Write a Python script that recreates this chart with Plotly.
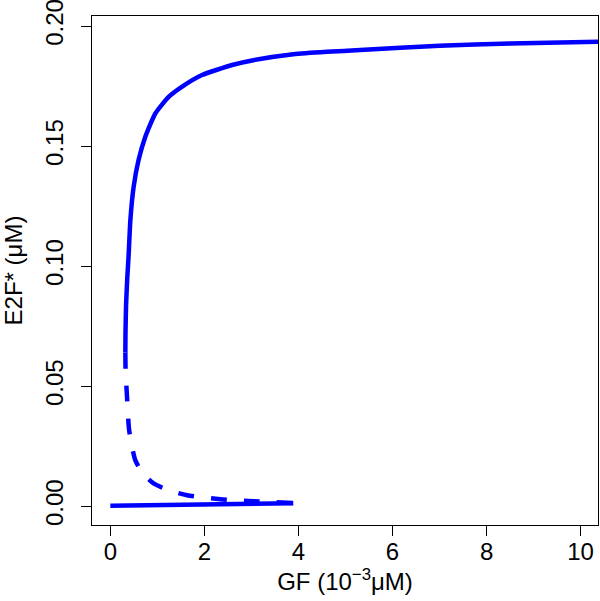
import plotly.graph_objects as go

# Stable upper branch (solid)
upper_x = [0.319, 0.322, 0.335, 0.36, 0.39, 0.425, 0.495, 0.60, 0.744, 0.956, 1.24, 1.52, 1.95, 2.59, 3.04, 3.89, 4.6, 5.31, 7.0, 8.5, 10.4]
upper_y = [0.064, 0.072, 0.084, 0.095, 0.105, 0.119, 0.133, 0.1442, 0.1539, 0.1636, 0.1705, 0.1747, 0.1796, 0.1838, 0.1858, 0.1883, 0.1893, 0.1900, 0.1918, 0.1927, 0.1935]

# Unstable branch (dashed)
unstable_x = [0.319, 0.325, 0.355, 0.40, 0.53, 0.70, 0.92, 1.25, 1.63, 2.34, 3.04, 3.89]
unstable_y = [0.064, 0.056, 0.0455, 0.0317, 0.0192, 0.0135, 0.0095, 0.0066, 0.0046, 0.0029, 0.0021, 0.0014]

# Stable lower branch (solid)
lower_x = [0.0, 1.0, 2.0, 3.0, 3.5, 3.89]
lower_y = [0.0002, 0.0004, 0.0006, 0.0009, 0.0011, 0.0013]

x_ticks = [0, 2, 4, 6, 8, 10]
y_ticks = [0.00, 0.05, 0.10, 0.15, 0.20]
y_tick_labels = ["0.00", "0.05", "0.10", "0.15", "0.20"]

BLUE = "#0000FF"
FONT = "Liberation Sans, Arial, sans-serif"

fig = go.Figure()
fig.add_trace(go.Scatter(x=upper_x, y=upper_y, mode="lines",
                         line=dict(color=BLUE, width=4.5, shape="spline", smoothing=0.5),
                         showlegend=False))
fig.add_trace(go.Scatter(x=unstable_x, y=unstable_y, mode="lines",
                         line=dict(color=BLUE, width=4.5, dash="16px,17px", shape="spline", smoothing=0.6),
                         showlegend=False))
fig.add_trace(go.Scatter(x=lower_x, y=lower_y, mode="lines",
                         line=dict(color=BLUE, width=4.5),
                         showlegend=False))

axis_common = dict(
    showline=True, mirror=True, linecolor="black", linewidth=1,
    ticks="outside", ticklen=10, tickcolor="black", tickwidth=1,
    showgrid=False, zeroline=False,
    tickfont=dict(family=FONT, size=24, color="black"),
    ticklabeloverflow="allow",
)

fig.update_xaxes(
    range=[-0.39, 10.37], tickvals=x_ticks, ticktext=[str(v) for v in x_ticks],
    title=dict(text="GF (10<sup>−3</sup>μM)", font=dict(family=FONT, size=24, color="black"), standoff=5),
    ticklabelstandoff=-5,
    **axis_common,
)
fig.update_yaxes(
    range=[-0.0078, 0.2042], tickvals=y_ticks, ticktext=y_tick_labels, tickangle=-90,
    title=dict(text="E2F* (μM)", font=dict(family=FONT, size=24, color="black"), standoff=13),
    ticklabelstandoff=8,
    **axis_common,
)

fig.update_layout(
    width=600, height=601,
    margin=dict(l=92, r=2, t=16, b=76, autoexpand=False),
    plot_bgcolor="white", paper_bgcolor="white",
    font=dict(family=FONT, size=24, color="black"),
)

fig.write_html("out.html", config={"displayModeBar": False},
               post_script="document.body.style.margin='0';document.body.style.overflow='hidden';")
